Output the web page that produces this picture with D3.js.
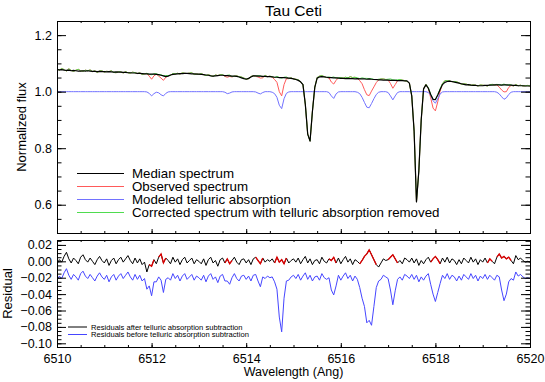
<!DOCTYPE html>
<html>
<head>
<meta charset="utf-8">
<script src="https://cdn.jsdelivr.net/npm/d3@7"></script>
<style>
  body { margin: 0; background: #fff; }
  svg { display: block; }
  text { font-family: "Liberation Sans", Arial, Helvetica, sans-serif; fill: #000; }
</style>
</head>
<body>
<svg></svg>
<script>
// spectra are sampled every 0.05 Angstrom from 6510 to 6520 (201 samples)
var waveStart = 6510
var waveStep = 0.05

// median stellar spectrum (black)
var median = [
  1.078,1.077,1.078,1.076,1.075,1.076,1.074,1.075,1.074,1.073,
  1.073,1.074,1.073,1.074,1.073,1.072,1.072,1.071,1.072,1.071,
  1.071,1.070,1.071,1.070,1.069,1.070,1.069,1.069,1.068,1.068,
  1.067,1.067,1.066,1.066,1.065,1.065,1.064,1.063,1.063,1.062,
  1.062,1.062,1.061,1.060,1.058,1.056,1.053,1.055,1.059,1.061,
  1.062,1.063,1.064,1.064,1.065,1.065,1.064,1.063,1.063,1.062,
  1.062,1.061,1.060,1.059,1.058,1.056,1.055,1.056,1.057,1.058,
  1.058,1.057,1.057,1.056,1.055,1.055,1.054,1.052,1.049,1.046,
  1.044,1.047,1.052,1.056,1.056,1.055,1.055,1.054,1.054,1.053,
  1.053,1.052,1.051,1.051,1.050,1.050,1.050,1.049,1.048,1.047,
  1.045,1.043,1.040,1.035,1.025,0.955,0.850,0.825,0.930,1.015,
  1.048,1.052,1.053,1.052,1.051,1.050,1.050,1.049,1.049,1.048,
  1.047,1.047,1.046,1.047,1.046,1.046,1.045,1.046,1.045,1.045,
  1.045,1.044,1.045,1.044,1.043,1.043,1.042,1.042,1.041,1.041,
  1.041,1.040,1.040,1.040,1.039,1.039,1.039,1.038,1.038,1.030,
  0.985,0.860,0.610,0.720,0.900,1.010,1.024,1.012,0.990,0.973,
  0.972,0.988,1.008,1.025,1.033,1.036,1.037,1.036,1.034,1.032,
  1.030,1.028,1.026,1.024,1.025,1.023,1.022,1.022,1.021,1.021,
  1.021,1.022,1.022,1.023,1.023,1.024,1.024,1.024,1.023,1.024,
  1.024,1.023,1.023,1.022,1.022,1.021,1.021,1.021,1.020,1.020,1.020
]

// observed spectrum (red)
var observed = [
  1.081,1.076,1.082,1.078,1.073,1.081,1.075,1.072,1.076,1.079,
  1.074,1.072,1.076,1.074,1.077,1.071,1.074,1.068,1.073,1.074,
  1.069,1.072,1.071,1.074,1.068,1.067,1.071,1.070,1.066,1.071,
  1.067,1.065,1.069,1.067,1.064,1.067,1.061,1.063,1.064,1.055,
  1.044,1.056,1.062,1.055,1.048,1.040,1.051,1.056,1.058,1.064,
  1.063,1.065,1.062,1.067,1.065,1.064,1.066,1.067,1.061,1.063,
  1.061,1.064,1.060,1.057,1.060,1.057,1.054,1.059,1.057,1.060,
  1.060,1.054,1.051,1.054,1.052,1.055,1.056,1.053,1.052,1.048,
  1.045,1.045,1.054,1.056,1.054,1.052,1.048,1.049,1.057,1.053,
  1.055,1.051,1.043,1.033,1.000,0.985,1.025,1.046,1.046,1.049,
  1.045,1.044,1.042,1.035,1.025,0.955,0.850,0.825,0.930,1.016,
  1.050,1.055,1.057,1.053,1.050,1.049,1.034,1.027,1.040,1.049,
  1.050,1.048,1.051,1.049,1.053,1.050,1.051,1.047,1.039,1.028,
  1.007,0.989,0.986,1.002,1.017,1.032,1.042,1.045,1.045,1.043,
  1.041,1.029,1.012,1.025,1.039,1.043,1.041,1.039,1.037,1.030,
  0.985,0.860,0.610,0.720,0.900,1.010,1.026,1.012,0.979,0.942,
  0.932,0.964,1.002,1.028,1.039,1.039,1.038,1.035,1.036,1.035,
  1.031,1.026,1.028,1.027,1.024,1.023,1.024,1.023,1.020,1.024,
  1.023,1.022,1.020,1.024,1.026,1.023,1.024,1.016,1.006,0.999,
  1.000,1.015,1.022,1.020,1.025,1.021,1.023,1.020,1.021,1.022,1.020
]

// modeled telluric absorption (blue)
var telluric = [
  1,1,1,1,1,1,1,1,1,1,
  1,1,1,1,1,1,1,1,1,1,
  1,1,1,1,1,1,1,1,1,1,
  1,1,1,1,1,1,1,1,0.999,0.994,
  0.985,0.993,0.998,0.996,0.989,0.985,0.994,0.999,1,1,
  1,1,1,1,1,1,1,1,1,1,
  1,1,1,1,1,1,1,1,1,1,
  1,0.998,0.993,0.995,0.999,1,1,1,1,1,
  1,1,1,1,0.999,0.995,0.992,0.997,1,1,
  1,0.998,0.993,0.980,0.952,0.940,0.975,0.994,0.999,1,
  1,1,1,1,1,1,1,1,1,1,
  1,1,1,1,1,0.997,0.985,0.976,0.992,0.999,
  1,1,1,1,1,1,1,0.998,0.993,0.980,
  0.962,0.945,0.943,0.958,0.975,0.990,0.998,1,1,1,
  0.997,0.985,0.971,0.985,0.997,1,1,1,1,1,
  1,1,1,1,1,1,1,0.997,0.988,0.968,
  0.959,0.975,0.992,0.999,1,1,1,1,1,1,
  1,1,1,1,1,1,1,1,1,1,
  1,1,1,1,1,1,0.998,0.992,0.982,0.973,
  0.978,0.990,0.998,1,1,1,1,1,1,1,1
]

// corrected spectrum, telluric absorption removed (green)
var corrected = [
  1.081,1.076,1.082,1.078,1.073,1.081,1.075,1.072,1.076,1.079,
  1.074,1.072,1.076,1.074,1.077,1.071,1.074,1.068,1.073,1.074,
  1.069,1.072,1.071,1.074,1.068,1.067,1.071,1.070,1.066,1.071,
  1.067,1.065,1.069,1.067,1.064,1.067,1.061,1.063,1.065,1.061,
  1.060,1.063,1.064,1.059,1.060,1.056,1.057,1.057,1.058,1.064,
  1.063,1.065,1.062,1.067,1.065,1.064,1.066,1.067,1.061,1.063,
  1.061,1.064,1.060,1.057,1.060,1.057,1.054,1.059,1.057,1.060,
  1.060,1.056,1.058,1.059,1.053,1.055,1.056,1.053,1.052,1.048,
  1.045,1.045,1.054,1.056,1.055,1.057,1.056,1.052,1.057,1.053,
  1.055,1.053,1.050,1.054,1.050,1.048,1.051,1.052,1.047,1.049,
  1.045,1.044,1.042,1.035,1.025,0.955,0.850,0.825,0.930,1.016,
  1.050,1.055,1.057,1.053,1.050,1.052,1.050,1.052,1.048,1.050,
  1.050,1.048,1.051,1.049,1.053,1.050,1.051,1.049,1.046,1.049,
  1.047,1.047,1.046,1.046,1.043,1.042,1.044,1.045,1.045,1.043,
  1.044,1.045,1.042,1.041,1.042,1.043,1.041,1.039,1.037,1.030,
  0.985,0.860,0.610,0.720,0.900,1.010,1.026,1.015,0.991,0.973,
  0.972,0.989,1.010,1.029,1.039,1.039,1.038,1.035,1.036,1.035,
  1.031,1.026,1.028,1.027,1.024,1.023,1.024,1.023,1.020,1.024,
  1.023,1.022,1.020,1.024,1.026,1.023,1.026,1.024,1.024,1.027,
  1.023,1.025,1.024,1.020,1.025,1.021,1.023,1.020,1.021,1.022,1.020
]

// residuals after telluric subtraction (black, red inside telluric bands)
var residAfter = [
  -0.003,0.002,-0.001,0.006,0.011,0.003,-0.002,0.004,0.001,-0.003,
  0.005,0.008,0.002,-0.001,0.004,0.000,-0.004,0.002,0.006,0.001,
  -0.002,0.003,-0.005,0.001,0.004,-0.003,0.002,0.005,-0.001,0.003,
  0.007,0.001,-0.003,0.004,-0.002,0.003,-0.004,-0.001,-0.013,-0.004,
  -0.006,0.002,-0.003,0.005,0.009,-0.002,0.004,0.001,-0.003,0.005,
  -0.001,0.003,-0.004,0.002,0.005,-0.002,0.001,0.004,-0.003,0.002,
  0.000,-0.003,0.003,-0.005,0.002,0.005,-0.002,0.001,-0.006,0.002,
  0.004,-0.002,0.003,-0.003,0.001,0.005,-0.001,-0.004,0.002,0.003,
  -0.002,0.002,-0.004,0.003,0.005,0.001,-0.003,0.004,-0.001,0.002,
  0.000,0.003,-0.002,0.005,-0.001,0.002,-0.003,0.004,-0.002,0.001,
  0.003,-0.001,0.004,-0.003,0.002,0.006,-0.002,0.003,-0.004,0.001,
  0.002,-0.003,0.005,0.000,-0.002,0.003,0.001,0.005,-0.002,0.004,
  -0.003,0.002,0.006,-0.001,0.003,-0.004,0.002,0.000,-0.003,0.001,
  0.006,0.009,0.014,0.008,0.002,-0.004,-0.007,-0.002,0.003,0.001,
  0.002,0.005,0.008,0.003,-0.002,0.001,-0.003,0.004,0.002,-0.001,
  0.004,-0.002,0.003,-0.005,0.001,-0.003,0.002,0.005,-0.001,0.003,
  0.006,0.002,-0.003,0.004,-0.001,0.005,-0.002,0.003,0.001,-0.004,
  0.002,-0.003,0.004,0.001,-0.002,0.005,-0.001,0.003,-0.004,0.002,
  -0.001,0.004,-0.002,0.003,0.000,-0.003,0.005,0.009,0.004,0.006,
  0.003,0.005,0.001,-0.003,0.007,0.002,0.004,0.001,-0.001,0.000,-0.001
]

// residuals before telluric subtraction (blue)
var residBefore = [
  -0.023,-0.018,-0.021,-0.014,-0.009,-0.017,-0.022,-0.016,-0.019,-0.023,
  -0.015,-0.012,-0.018,-0.021,-0.016,-0.020,-0.024,-0.018,-0.014,-0.019,
  -0.022,-0.017,-0.025,-0.019,-0.016,-0.023,-0.018,-0.015,-0.021,-0.017,
  -0.013,-0.019,-0.023,-0.016,-0.022,-0.017,-0.024,-0.021,-0.034,-0.030,
  -0.042,-0.025,-0.025,-0.019,-0.023,-0.038,-0.022,-0.020,-0.023,-0.015,
  -0.021,-0.017,-0.024,-0.018,-0.015,-0.022,-0.019,-0.016,-0.023,-0.018,
  -0.020,-0.023,-0.017,-0.025,-0.018,-0.015,-0.022,-0.019,-0.026,-0.018,
  -0.016,-0.024,-0.024,-0.028,-0.020,-0.015,-0.021,-0.024,-0.018,-0.017,
  -0.022,-0.018,-0.024,-0.017,-0.016,-0.024,-0.031,-0.019,-0.021,-0.018,
  -0.020,-0.019,-0.025,-0.034,-0.068,-0.086,-0.045,-0.024,-0.023,-0.019,
  -0.017,-0.021,-0.016,-0.023,-0.018,-0.014,-0.022,-0.017,-0.024,-0.019,
  -0.018,-0.023,-0.015,-0.020,-0.022,-0.020,-0.035,-0.041,-0.030,-0.017,
  -0.023,-0.018,-0.014,-0.021,-0.017,-0.024,-0.018,-0.022,-0.032,-0.045,
  -0.055,-0.075,-0.072,-0.078,-0.055,-0.032,-0.024,-0.022,-0.017,-0.019,
  -0.021,-0.035,-0.053,-0.036,-0.022,-0.019,-0.023,-0.016,-0.018,-0.021,
  -0.016,-0.022,-0.017,-0.025,-0.019,-0.023,-0.018,-0.015,-0.028,-0.040,
  -0.049,-0.038,-0.027,-0.017,-0.021,-0.015,-0.022,-0.017,-0.019,-0.024,
  -0.018,-0.023,-0.016,-0.019,-0.022,-0.015,-0.021,-0.017,-0.024,-0.018,
  -0.021,-0.016,-0.022,-0.017,-0.020,-0.023,-0.017,-0.019,-0.035,-0.048,
  -0.040,-0.025,-0.021,-0.023,-0.013,-0.018,-0.016,-0.019,-0.021,-0.020,-0.021
]

// wavelength bands where the telluric model is significant (residual drawn red)
var telluricBands = [
  [6511.95, 6512.05], [6512.15, 6512.30], [6513.55, 6513.70], [6514.20, 6514.35],
  [6514.60, 6514.85], [6515.75, 6515.90], [6516.40, 6516.75], [6517.00, 6517.20],
  [6517.90, 6518.10], [6519.10, 6519.20], [6519.30, 6519.60]
]

var xTicks = [6510, 6512, 6514, 6516, 6518, 6520]
var fluxTicks = [0.6, 0.8, 1.0, 1.2]
var residTicks = [-0.10, -0.08, -0.06, -0.04, -0.02, 0.00, 0.02]

var topLegend = ['Median spectrum', 'Observed spectrum', 'Modeled telluric absorption',
                 'Corrected spectrum with telluric absorption removed']
var botLegend = ['Residuals after telluric absorption subtraction',
                 'Residuals before telluric absorption subtraction']

var wave = median.map(function (d, i) { return +(waveStart + i * waveStep).toFixed(2) })

var width = 545
var height = 382

var svg = d3.select('svg').attr('width', width).attr('height', height)
svg.append('rect').attr('width', width).attr('height', height).attr('fill', '#fff')

var x = d3.scaleLinear().domain([6510, 6520]).range([57, 530])
var yTop = d3.scaleLinear().domain([0.5, 1.25]).range([233, 21])
var yBot = d3.scaleLinear().domain([-0.1045, 0.026]).range([347, 240])

function minorTicks(lo, hi, step) {
  var out = []
  var n = Math.round((hi - lo) / step)
  for (var i = 0; i <= n; i++) out.push(+(lo + i * step).toFixed(4))
  return out
}

// IDL style box with inward ticks on all four sides
function drawBox(y, yMajor, yMinor, yFmt, xLabels) {
  var y0 = y.range()[0], y1 = y.range()[1]
  var xMinor = minorTicks(6510, 6520, 0.5)

  var axes = [
    [d3.axisBottom(x).tickValues(xTicks).tickSize(-4).tickPadding(7)
       .tickFormat(xLabels ? d3.format('d') : ''), 'translate(0,' + y0 + ')'],
    [d3.axisBottom(x).tickValues(xMinor).tickSize(-2).tickFormat(''), 'translate(0,' + y0 + ')'],
    [d3.axisTop(x).tickValues(xTicks).tickSize(-4).tickFormat(''), 'translate(0,' + y1 + ')'],
    [d3.axisTop(x).tickValues(xMinor).tickSize(-2).tickFormat(''), 'translate(0,' + y1 + ')'],
    [d3.axisLeft(y).tickValues(yMajor).tickSize(-9).tickPadding(5).tickFormat(yFmt), 'translate(57,0)'],
    [d3.axisLeft(y).tickValues(yMinor).tickSize(-4.5).tickFormat(''), 'translate(57,0)'],
    [d3.axisRight(y).tickValues(yMajor).tickSize(-9).tickFormat(''), 'translate(530,0)'],
    [d3.axisRight(y).tickValues(yMinor).tickSize(-4.5).tickFormat(''), 'translate(530,0)']
  ]
  axes.forEach(function (a) {
    var g = svg.append('g').attr('transform', a[1]).call(a[0])
    g.select('.domain').remove()
    g.selectAll('line').attr('stroke', '#000')
    g.selectAll('text')
      .attr('font-size', 12.5)
      .attr('font-family', '"Liberation Sans", Arial, Helvetica, sans-serif')
  })

  svg.append('rect')
    .attr('x', 57.5).attr('y', y1 + 0.5)
    .attr('width', 473).attr('height', y0 - y1)
    .attr('fill', 'none').attr('stroke', '#000').attr('stroke-width', 1)
}

function addClip(id, y) {
  svg.append('clipPath').attr('id', id).append('rect')
    .attr('x', 57).attr('y', y.range()[1])
    .attr('width', 473).attr('height', y.range()[0] - y.range()[1])
}
addClip('clipTop', yTop)
addClip('clipBot', yBot)

function spectrumLine(y) {
  return d3.line()
    .x(function (d) { return x(d[0]) })
    .y(function (d) { return y(d[1]) })
}

function pairs(values) {
  return values.map(function (v, i) { return [wave[i], v] })
}

// ---- top panel ----
var topG = svg.append('g').attr('clip-path', 'url(#clipTop)')
var lineTop = spectrumLine(yTop)

var topSeries = [
  { data: observed, color: '#ff5a5a', width: 1 },
  { data: telluric, color: '#7272ff', width: 1 },
  { data: corrected, color: '#4fdc4f', width: 1 },
  { data: median, color: '#000', width: 1.2 }
]
topSeries.forEach(function (s) {
  topG.append('path')
    .attr('d', lineTop(pairs(s.data)))
    .attr('fill', 'none')
    .attr('stroke', s.color)
    .attr('stroke-width', s.width)
    .attr('stroke-linejoin', 'round')
})

drawBox(yTop, fluxTicks, minorTicks(0.5, 1.25, 0.05), d3.format('.1f'), false)

// top legend
var legendColors = ['#000', '#ff5a5a', '#7272ff', '#4fdc4f']
var legendRows = [173, 186, 199, 212]
topLegend.forEach(function (label, i) {
  svg.append('line')
    .attr('x1', 77).attr('x2', 124)
    .attr('y1', legendRows[i] + 0.5).attr('y2', legendRows[i] + 0.5)
    .attr('stroke', legendColors[i]).attr('stroke-width', 1)
  svg.append('text')
    .attr('x', 132).attr('y', legendRows[i] + 4.8)
    .attr('font-size', 13.3)
    .text(label)
})

// ---- bottom panel ----
var botG = svg.append('g').attr('clip-path', 'url(#clipBot)')
var lineBot = spectrumLine(yBot)

botG.append('path')
  .attr('d', lineBot(pairs(residBefore)))
  .attr('fill', 'none').attr('stroke', '#4646ff').attr('stroke-width', 1)

var afterPts = pairs(residAfter)
botG.append('path')
  .attr('d', lineBot(afterPts))
  .attr('fill', 'none').attr('stroke', '#000').attr('stroke-width', 1)

telluricBands.forEach(function (b) {
  var seg = afterPts.filter(function (p) { return p[0] >= b[0] - 1e-6 && p[0] <= b[1] + 1e-6 })
  botG.append('path')
    .attr('d', lineBot(seg))
    .attr('fill', 'none').attr('stroke', '#e00000').attr('stroke-width', 1.3)
})

drawBox(yBot, residTicks, minorTicks(-0.10, 0.025, 0.005), d3.format('.2f'), true)

// bottom legend
var botColors = ['#000', '#4646ff']
var botRows = [327, 334.5]
botLegend.forEach(function (label, i) {
  svg.append('line')
    .attr('x1', 68).attr('x2', 87)
    .attr('y1', botRows[i]).attr('y2', botRows[i])
    .attr('stroke', botColors[i]).attr('stroke-width', 1)
  svg.append('text')
    .attr('x', 91).attr('y', botRows[i] + 2.7)
    .attr('font-size', 7.6)
    .text(label)
})

// titles
svg.append('text')
  .attr('x', 293.5).attr('y', 16)
  .attr('text-anchor', 'middle')
  .attr('font-size', 15.5)
  .text('Tau Ceti')

svg.append('text')
  .attr('transform', 'translate(26,127) rotate(-90)')
  .attr('text-anchor', 'middle')
  .attr('font-size', 13)
  .text('Normalized flux')

svg.append('text')
  .attr('transform', 'translate(12,293.5) rotate(-90)')
  .attr('text-anchor', 'middle')
  .attr('font-size', 13)
  .text('Residual')

svg.append('text')
  .attr('x', 293.5).attr('y', 376)
  .attr('text-anchor', 'middle')
  .attr('font-size', 12.5)
  .text('Wavelength (Ang)')
</script>
</body>
</html>
